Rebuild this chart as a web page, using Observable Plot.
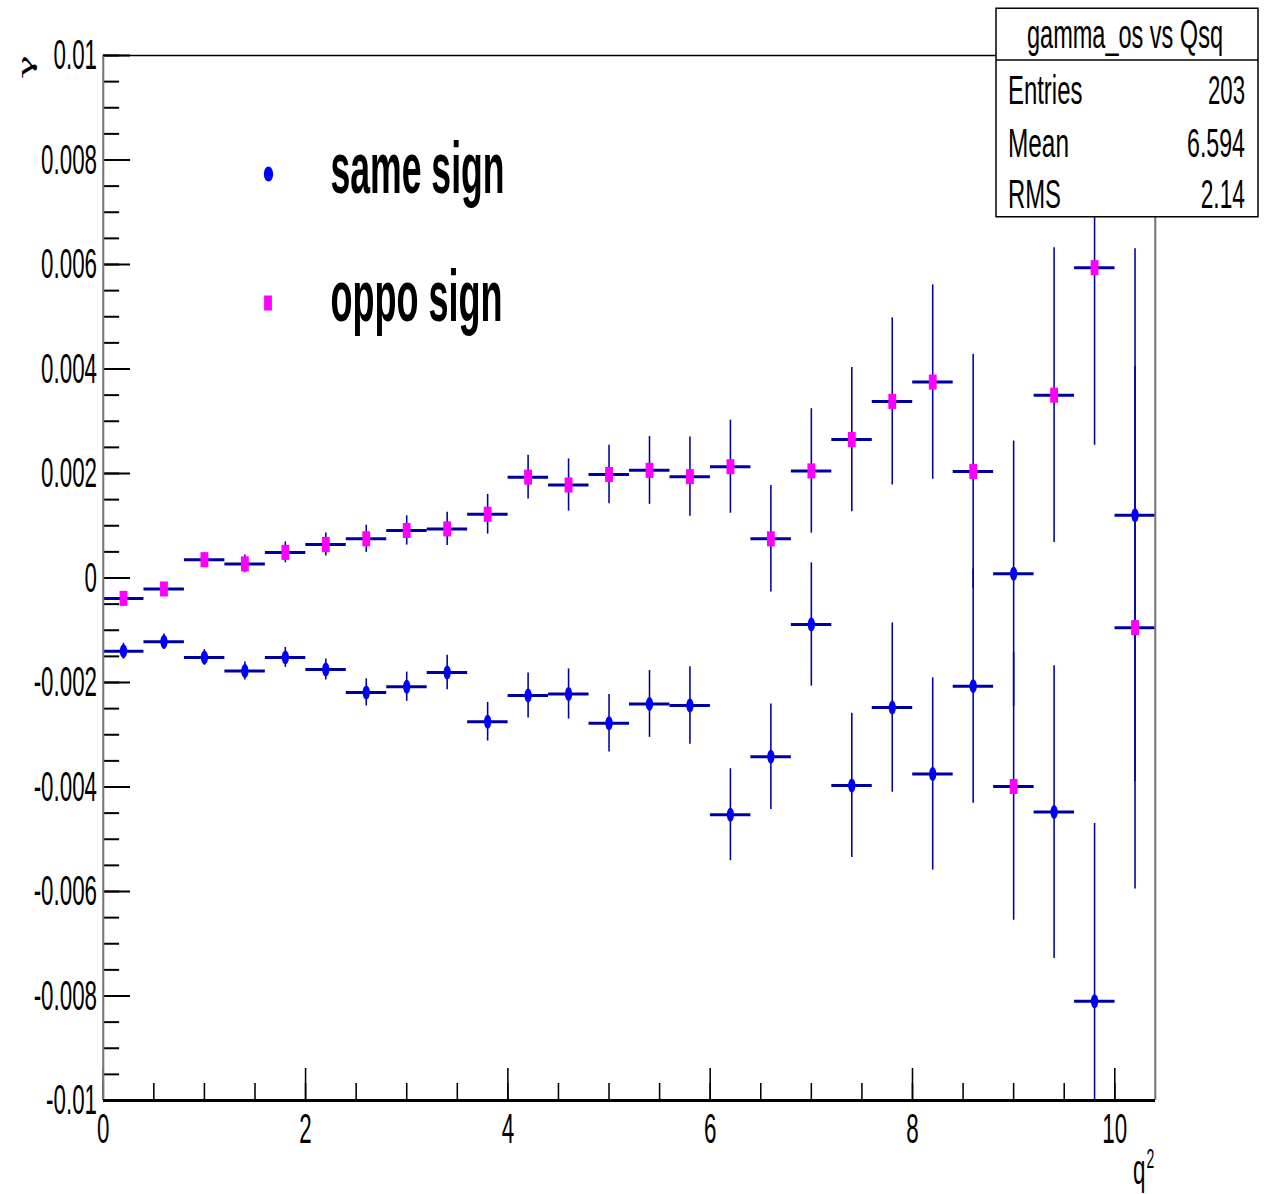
<!DOCTYPE html>
<html><head><meta charset="utf-8">
<script src="https://cdn.jsdelivr.net/npm/d3@7"></script>
<script src="https://cdn.jsdelivr.net/npm/@observablehq/plot@0.6"></script>
<style>html,body{margin:0;padding:0;background:#fff;} #chart{width:1264px;height:1194px;overflow:hidden}</style>
</head><body><div id="chart"></div>
<script>
// ---- data ----
const binCenters = [0.2, 0.6, 1.0, 1.4, 1.8, 2.2, 2.6, 3.0, 3.4, 3.8, 4.2, 4.6, 5.0, 5.4, 5.8, 6.2, 6.6, 7.0, 7.4, 7.8, 8.2, 8.6, 9.0, 9.4, 9.8, 10.2];
const binWidth = 0.4;
const sameSign = [-0.0014, -0.00122, -0.00152, -0.00178, -0.00152, -0.00175, -0.00219, -0.00208, -0.00181, -0.00275, -0.00225, -0.00222, -0.00278, -0.00241, -0.00244, -0.00453, -0.00342, -0.00089, -0.00397, -0.00248, -0.00375, -0.00207, 0.00008, -0.00448, -0.0081, 0.0012];
const sameSignErr = [0.00015, 0.00015, 0.00015, 0.00017, 0.00019, 0.0002, 0.00026, 0.00028, 0.00033, 0.00037, 0.00043, 0.00048, 0.00055, 0.00064, 0.00074, 0.00088, 0.00101, 0.00118, 0.00138, 0.00162, 0.00184, 0.00224, 0.00254, 0.0028, 0.0034, 0.0051];
const oppoSign = [-0.00039, -0.00021, 0.00035, 0.00027, 0.00049, 0.00064, 0.00075, 0.00091, 0.00094, 0.00122, 0.00193, 0.00178, 0.00198, 0.00206, 0.00194, 0.00213, 0.00075, 0.00205, 0.00265, 0.00338, 0.00375, 0.00204, -0.00399, 0.0035, 0.00594, -0.00095];
const oppoSignErr = [0.00008, 0.0001, 0.00013, 0.00017, 0.0002, 0.00022, 0.00026, 0.00028, 0.00032, 0.00038, 0.00042, 0.0005, 0.00056, 0.00065, 0.00076, 0.00089, 0.00102, 0.00119, 0.00138, 0.0016, 0.00186, 0.00224, 0.00256, 0.00282, 0.0034, 0.005];
const yMajorTicks = [-0.01, -0.008, -0.006, -0.004, -0.002, 0, 0.002, 0.004, 0.006, 0.008, 0.01];
const yMinorTicks = d3.range(-20, 21).map(i => i / 2000);
const xMajorTicks = [0, 2, 4, 6, 8, 10];
const xMinorTicks = d3.range(0, 21).map(i => i / 2);
const legendLabels = ["same sign", "oppo sign"];
const statsTitle = "gamma_os vs Qsq";
const statsNames = ["Entries", "Mean", "RMS"];
const statsValues = ["203", "6.594", "2.14"];
const xTitle = "q", xTitleSup = "2", yTitle = "\u03b3";

// ---- tables ----
const same = binCenters.map((x, i) => ({x, y: sameSign[i], e: sameSignErr[i]}));
const oppo = binCenters.map((x, i) => ({x, y: oppoSign[i], e: oppoSignErr[i]}));

// virtual drawing space: horizontally stretched, then squeezed to 1264 px
const W = 2431, H = 1194, K = 1264 / W;
const vx = px => px / K;
const barColor = "#0000a0";
const xMax = binCenters[binCenters.length - 1] + binWidth / 2;

function errMarks(data) {
  return [
    Plot.ruleX(data, {x: "x", y1: d => d.y - d.e, y2: d => d.y + d.e, stroke: barColor, strokeWidth: 3, clip: true}),
    Plot.ruleY(data, {y: "y", x1: d => d.x - binWidth / 2, x2: d => d.x + binWidth / 2, stroke: barColor, strokeWidth: 3, clip: true})
  ];
}

const svg = Plot.plot({
  width: W, height: H,
  marginLeft: vx(103), marginRight: W - vx(1155), marginTop: 55, marginBottom: 94,
  style: {fontFamily: "Liberation Sans, Arial, sans-serif", fontSize: "43px", background: "white", color: "black"},
  x: {domain: [0, xMax]},
  y: {domain: [-0.01, 0.01]},
  marks: [
    ...errMarks(same),
    ...errMarks(oppo),
    Plot.dot(same, {x: "x", y: "y", r: 7, fill: "#0000ff", stroke: "none"}),
    Plot.dot(oppo, {x: "x", y: "y", symbol: "square", r: 8.5, fill: "#ff00ff", stroke: "none"}),
    Plot.axisY(yMinorTicks, {tickSize: -31, tickFormat: () => "", strokeWidth: 2, label: null}),
    Plot.axisY(yMajorTicks, {tickSize: -52, tickFormat: () => "", strokeWidth: 2, label: null}),
    Plot.axisY(yMajorTicks, {tickSize: 0, tickPadding: 12, tickFormat: d => String(d), fontSize: 43, label: null}),
    Plot.axisX(xMinorTicks, {tickSize: -17, tickFormat: () => "", strokeWidth: 3, label: null}),
    Plot.axisX(xMajorTicks, {tickSize: -32, tickFormat: () => "", strokeWidth: 3, label: null}),
    Plot.axisX(xMajorTicks, {tickSize: 0, tickPadding: 12, tickFormat: d => String(d), fontSize: 43, label: null}),
    Plot.ruleX([0], {stroke: "#777", strokeWidth: 4}),
    Plot.ruleX([xMax], {stroke: "#777", strokeWidth: 4}),
    Plot.ruleY([0.01], {stroke: "black", strokeWidth: 1.5}),
    Plot.ruleY([-0.01], {stroke: "black", strokeWidth: 3})
  ]
});
svg.setAttribute("width", 1264);
svg.setAttribute("height", 1194);
svg.setAttribute("preserveAspectRatio", "none");
svg.style.width = "1264px"; svg.style.height = "1194px"; svg.style.maxWidth = "none";
document.getElementById("chart").appendChild(svg);

const s = d3.select(svg);
const FF = "Liberation Sans, Arial, sans-serif";
const txt = () => s.append("text").attr("text-anchor", "start").attr("font-family", FF).attr("fill", "black");

// axis titles
txt().attr("x", vx(1133)).attr("y", 1184).attr("font-size", 43).text(xTitle);
txt().attr("x", vx(1146.5)).attr("y", 1168).attr("font-size", 27).text(xTitleSup);
txt().attr("transform", `translate(${vx(33)},55) rotate(-90)`).attr("text-anchor", "end")
  .attr("font-family", "DejaVu Serif, serif").attr("font-size", 40).text(yTitle);

// legend
s.append("ellipse").attr("cx", vx(268.5)).attr("cy", 174).attr("rx", 9).attr("ry", 7.5).attr("fill", "#0000ff");
s.append("rect").attr("x", vx(268) - 7.5).attr("y", 303 - 7.5).attr("width", 15).attr("height", 15).attr("fill", "#ff00ff");
const legendY = [193, 321], legendLen = [vx(174), vx(172)];
legendLabels.forEach((t, i) => {
  txt().attr("x", vx(330.5)).attr("y", legendY[i]).attr("font-weight", "bold")
    .attr("font-size", 72).attr("textLength", legendLen[i]).attr("lengthAdjust", "spacingAndGlyphs").text(t);
});

// stats box
const bx0 = vx(996), bx1 = vx(1258);
s.append("rect").attr("x", bx0).attr("y", 8.3).attr("width", bx1 - bx0).attr("height", 208.4)
  .attr("fill", "white").attr("stroke", "black").attr("stroke-width", 1.5).attr("vector-effect", "non-scaling-stroke");
s.append("line").attr("x1", bx0).attr("x2", bx1).attr("y1", 60).attr("y2", 60)
  .attr("stroke", "black").attr("stroke-width", 1.5).attr("vector-effect", "non-scaling-stroke");
txt().attr("x", vx(1027)).attr("y", 48).attr("font-size", 40)
  .attr("textLength", vx(196)).attr("lengthAdjust", "spacingAndGlyphs").text(statsTitle);
const rowBase = [104, 157, 208];
const nameLen = [74.4, 61, 53];
const valStart = [1208, 1187, 1200.7];
const valLen = [37, 58, 44.3];
statsNames.forEach((n, i) => {
  txt().attr("x", vx(1008)).attr("y", rowBase[i]).attr("font-size", 40)
    .attr("textLength", vx(nameLen[i])).attr("lengthAdjust", "spacingAndGlyphs").text(n);
  txt().attr("x", vx(valStart[i])).attr("y", rowBase[i]).attr("font-size", 40)
    .attr("textLength", vx(valLen[i])).attr("lengthAdjust", "spacingAndGlyphs").text(statsValues[i]);
});
</script>
</body></html>
